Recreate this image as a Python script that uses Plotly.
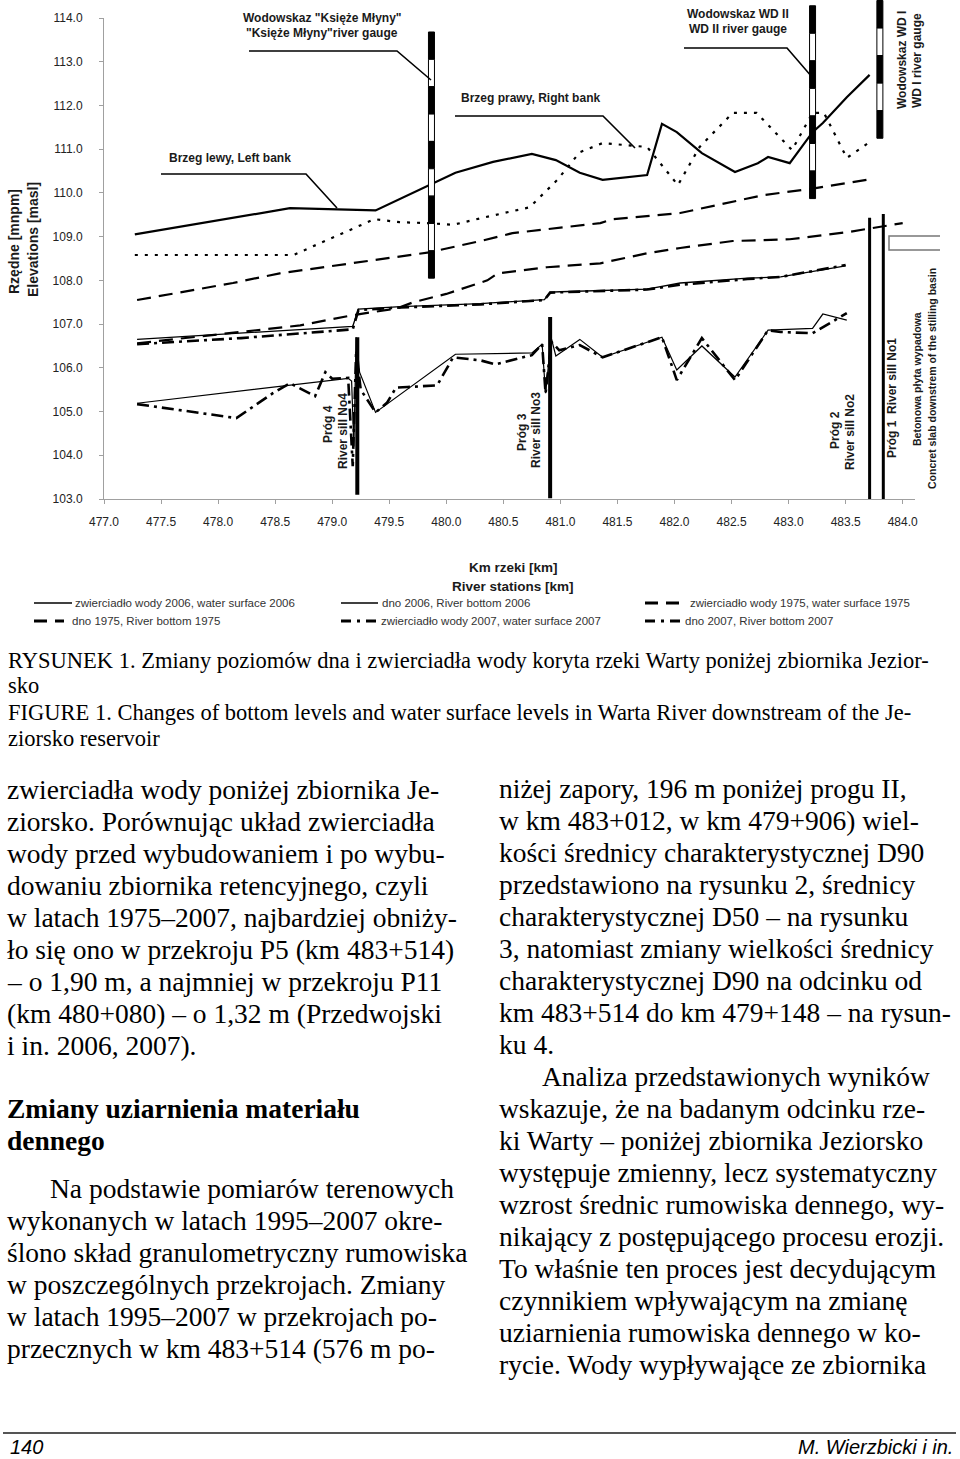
import plotly.graph_objects as go

# ---------------- data ----------------
km_left_bank = [477.27, 478.63, 479.38, 479.86, 480.08, 480.41, 480.75, 480.96, 481.17, 481.37,
                481.76, 481.89, 482.02, 482.24, 482.53, 482.73, 482.82, 483.01, 483.21, 483.30,
                483.51, 483.71]
el_left_bank = [109.05, 109.65, 109.60, 110.20, 110.46, 110.71, 110.89, 110.75, 110.46, 110.30,
                110.41, 111.58, 111.39, 110.91, 110.48, 110.68, 110.82, 110.68, 111.39, 111.60,
                112.19, 112.70]

km_right_bank = [477.27, 478.66, 479.37, 479.59, 479.83, 480.06, 480.30, 480.73, 480.97, 481.17,
                 481.37, 481.76, 482.03, 482.22, 482.51, 482.72, 483.03, 483.21, 483.31, 483.51,
                 483.71]
el_right_bank = [108.58, 108.58, 109.40, 109.33, 109.31, 109.27, 109.42, 109.67, 110.29, 110.93,
                 111.14, 111.05, 110.18, 111.05, 111.83, 111.83, 110.98, 111.83, 111.83, 110.80,
                 111.16]

km_ws_1975 = [477.29, 478.13, 478.54, 479.85, 480.30, 480.58, 481.35, 481.46, 482.05, 482.46,
              482.78, 483.21, 483.71]
el_ws_1975 = [107.55, 107.94, 108.16, 108.64, 108.90, 109.08, 109.31, 109.40, 109.54, 109.77,
              109.95, 110.10, 110.31]

km_bot_1975 = [477.29, 478.72, 479.17, 479.57, 479.71, 480.00, 480.36, 480.45, 480.88, 481.35,
               481.76, 482.05, 482.51, 483.01, 483.51, 483.71, 484.00]
el_bot_1975 = [106.56, 106.97, 107.20, 107.36, 107.50, 107.69, 108.00, 108.16, 108.30, 108.39,
               108.62, 108.74, 108.90, 108.94, 109.10, 109.19, 109.31]

km_ws_2006 = [477.29, 479.18, 479.23, 479.60, 480.30, 480.86, 480.91, 481.00, 481.76, 482.05,
              482.64, 482.93, 483.50]
el_ws_2006 = [106.65, 106.95, 107.34, 107.40, 107.47, 107.56, 107.73, 107.74, 107.80, 107.94,
              108.05, 108.08, 108.33]

km_ws_2007 = [477.29, 478.20, 479.18, 479.23, 479.60, 480.30, 480.86, 480.91, 481.76, 482.05,
              482.64, 482.93, 483.50]
el_ws_2007 = [106.54, 106.68, 106.88, 107.32, 107.38, 107.45, 107.55, 107.72, 107.79, 107.90,
              108.03, 108.08, 108.35]

km_bot_2006 = [477.29, 479.14, 479.17, 479.19, 479.21, 479.24, 479.38, 480.08, 480.75, 480.84,
               480.87, 480.92, 480.96, 481.17, 481.37, 481.89, 482.02, 482.24, 482.53, 482.82,
               483.21, 483.30, 483.51]
el_bot_2006 = [105.19, 105.76, 105.70, 104.20, 106.70, 105.90, 104.98, 106.31, 106.34, 106.54,
               105.42, 106.68, 106.27, 106.65, 106.24, 106.70, 105.95, 106.50, 105.79, 106.86,
               106.90, 107.23, 107.09]

km_bot_2007 = [477.29, 478.16, 478.48, 478.63, 478.85, 478.94, 479.00, 479.14, 479.18, 479.21,
               479.25, 479.38, 479.48, 479.56, 479.66, 479.92, 480.06, 480.30, 480.43, 480.75,
               480.84, 480.87, 480.92, 480.99, 481.17, 481.37, 481.89, 482.02, 482.24, 482.53,
               482.82, 482.93, 483.21, 483.51]
el_bot_2007 = [105.17, 104.85, 105.42, 105.65, 105.35, 105.90, 105.75, 105.77, 103.75, 106.40,
               105.50, 104.98, 105.20, 105.55, 105.56, 105.60, 106.24, 106.17, 106.08, 106.29,
               106.54, 105.42, 106.60, 106.40, 106.52, 106.24, 106.70, 105.72, 106.68, 105.72,
               106.86, 106.82, 106.79, 107.25]

# river sills: km, bottom, top
sill_km = [479.22, 480.91, 483.71, 483.83]
sill_bottom = [103.1, 103.02, 103.0, 103.0]
sill_top = [106.7, 107.16, 109.43, 109.52]
sill_width = [4, 4, 3, 3]

# river gauges: km, bottom elevation, top elevation, number of stripes
gauge_km = [479.87, 483.21, 483.80]
gauge_bottom = [108.05, 109.87, 111.25]
gauge_top = [113.68, 114.28, 114.40]
gauge_n = [9, 7, 5]

x_ticks = [477.0, 477.5, 478.0, 478.5, 479.0, 479.5, 480.0, 480.5, 481.0, 481.5,
           482.0, 482.5, 483.0, 483.5, 484.0]
y_ticks = [103.0, 104.0, 105.0, 106.0, 107.0, 108.0, 109.0, 110.0, 111.0, 112.0, 113.0, 114.0]

# ---------------- layout geometry ----------------
W, H = 960, 1459
L, R, T, B = 104, 45, 18, 960
PW, PH = W - L - R, H - T - B
X0, Y0, Y1 = 477.0, 103.0, 114.0
X1 = X0 + PW / 114.1


def pp(px, py):
    return (px - L) / PW, (H - B - py) / PH


def d2p(km, el):
    return (km - X0) / (X1 - X0), (el - Y0) / (Y1 - Y0)


fig = go.Figure()

SANS = "Liberation Sans, Arial, sans-serif"
SERIF = "Liberation Serif, Times New Roman, serif"


def add_line(x, y, width, dash):
    fig.add_trace(go.Scatter(x=x, y=y, mode="lines", hoverinfo="skip",
                             line=dict(color="black", width=width, dash=dash)))


add_line(km_ws_1975, el_ws_1975, 2.2, "14px,8px")
add_line(km_bot_1975, el_bot_1975, 2.2, "14px,8px")
add_line(km_right_bank, el_right_bank, 2.2, "3px,7px")
add_line(km_left_bank, el_left_bank, 2.2, "solid")
add_line(km_ws_2007, el_ws_2007, 2.6, "12px,5px,3px,5px")
add_line(km_ws_2006, el_ws_2006, 1.3, "solid")
add_line(km_bot_2007, el_bot_2007, 2.6, "12px,5px,3px,5px")
add_line(km_bot_2006, el_bot_2006, 1.2, "solid")

shapes = []

# sills
for k, b, t, w in zip(sill_km, sill_bottom, sill_top, sill_width):
    x, yb = d2p(k, b)
    _, yt = d2p(k, t)
    shapes.append(dict(type="line", xref="paper", yref="paper", x0=x, x1=x, y0=yb, y1=yt,
                       line=dict(color="black", width=w)))

# gauges (striped bars)
for k, b, t, n in zip(gauge_km, gauge_bottom, gauge_top, gauge_n):
    seg = (t - b) / n
    hw = 3 / PW
    xc, _ = d2p(k, b)
    for i in range(n):
        e_top = t - i * seg
        e_bot = t - (i + 1) * seg
        _, yt = d2p(k, e_top)
        _, yb = d2p(k, e_bot)
        shapes.append(dict(type="rect", xref="paper", yref="paper", x0=xc - hw, x1=xc + hw,
                           y0=yb, y1=yt, fillcolor="black" if i % 2 == 0 else "white",
                           line=dict(color="black", width=1)))

# concrete slab outline
sx0, sy0 = pp(889, 236)
sx1, sy1 = pp(940, 250)
shapes.append(dict(type="path", xref="paper", yref="paper",
                   path=f"M {sx1},{sy0} L {sx0},{sy0} L {sx0},{sy1} L {sx1},{sy1}",
                   line=dict(color="#777777", width=1.5)))

# leader lines
leaders = [[(249, 51), (397, 51), (431, 80)],
           [(161, 174), (306, 174), (337, 208)],
           [(455, 116), (603, 116), (635, 148)],
           [(684, 48), (787, 48), (812, 77)]]
for pts in leaders:
    path = ""
    for i, (a, b) in enumerate(pts):
        x, y = pp(a, b)
        path += ("M " if i == 0 else " L ") + f"{x},{y}"
    shapes.append(dict(type="path", xref="paper", yref="paper", path=path,
                       line=dict(color="black", width=1.6)))

annotations = []


def txt(s, px, py, size=12, bold=False, family=SANS, angle=0, xanchor="center",
        color="#1a1a1a", italic=False):
    x, y = pp(px, py)
    if bold:
        s = f"<b>{s}</b>"
    if italic:
        s = f"<i>{s}</i>"
    annotations.append(dict(text=s, x=x, y=y, xref="paper", yref="paper", showarrow=False,
                            xanchor=xanchor, yanchor="middle", textangle=angle,
                            font=dict(size=size, family=family, color=color)))


# chart labels
txt('Wodowskaz "Księże Młyny"', 322, 18, bold=True)
txt('"Księże Młyny"river gauge', 322, 33, bold=True)
txt("Brzeg lewy, Left bank", 230, 158, bold=True)
txt("Brzeg prawy, Right bank", 530, 98, bold=True)
txt("Wodowskaz WD II", 738, 14, bold=True)
txt("WD II river gauge", 738, 29, bold=True)
txt("Wodowskaz WD I", 902, 60, bold=True, angle=-90)
txt("WD I river gauge", 917, 60, bold=True, angle=-90)
txt("Próg 4", 328, 424, bold=True, angle=-90)
txt("River sill No4", 343, 431, bold=True, angle=-90)
txt("Próg 3", 522, 432, bold=True, angle=-90)
txt("River sill No3", 536, 430, bold=True, angle=-90)
txt("Próg 2", 835, 430, bold=True, angle=-90)
txt("River sill No2", 850, 432, bold=True, angle=-90)
txt("Próg 1  River sill No1", 892, 398, bold=True, angle=-90)
txt("Betonowa płyta wypadowa", 917, 379, size=10.5, bold=True, angle=-90)
txt("Concret slab downstrem of the stilling basin", 932, 378, size=10.5, bold=True, angle=-90)

# axis titles
txt("Rzędne [mnpm]", 14, 242, size=14, bold=True, angle=-90)
txt("Elevations [masl]", 33, 240, size=14, bold=True, angle=-90)
txt("Km rzeki [km]", 513, 567, size=13.5, bold=True)
txt("River stations [km]", 513, 586, size=13.5, bold=True)

# legend
legend_items = [
    (34, 72, 603, "solid", 1.3, 73, "zwierciadło wody 2006, water surface 2006"),
    (341, 378, 603, "solid", 1.3, 380, "dno 2006, River bottom 2006"),
    (645, 680, 603, "13px,8px", 3, 688, "zwierciadło wody 1975, water surface 1975"),
    (34, 64, 621, "13px,8px", 3, 70, "dno 1975, River bottom 1975"),
    (341, 377, 621, "10px,6px,3px,6px", 3, 379, "zwierciadło wody 2007, water surface 2007"),
    (645, 681, 621, "10px,6px,3px,6px", 3, 683, "dno 2007, River bottom 2007"),
]
for a, b, y, dash, w, tx, label in legend_items:
    x0, yy = pp(a, y)
    x1, _ = pp(b, y)
    shapes.append(dict(type="line", xref="paper", yref="paper", x0=x0, x1=x1, y0=yy, y1=yy,
                       line=dict(color="black", width=w, dash=dash)))
    txt(label, tx, y, size=11.5, xanchor="left", color="#333333")

# caption
CAP = 22.5
txt("RYSUNEK 1. Zmiany poziomów dna i zwierciadła wody koryta rzeki Warty poniżej zbiornika Jezior-",
    6, 660, size=CAP, family=SERIF, xanchor="left", color="black")
txt("sko", 6, 685, size=CAP, family=SERIF, xanchor="left", color="black")
txt("FIGURE 1. Changes of bottom levels and water surface levels in Warta River downstream of the Je-",
    6, 712, size=CAP, family=SERIF, xanchor="left", color="black")
txt("ziorsko reservoir", 6, 738, size=CAP, family=SERIF, xanchor="left", color="black")

# body text
BODY = 27.5
left_lines = [
    (5, 790, "zwierciadła wody poniżej zbiornika Je-", False),
    (5, 822, "ziorsko. Porównując układ zwierciadła", False),
    (5, 854, "wody przed wybudowaniem i po wybu-", False),
    (5, 886, "dowaniu zbiornika retencyjnego, czyli", False),
    (5, 917, "w latach 1975–2007, najbardziej obniży-", False),
    (5, 949, "ło się ono w przekroju P5 (km 483+514)", False),
    (5, 981, "– o 1,90 m, a najmniej w przekroju P11", False),
    (5, 1013, "(km 480+080) – o 1,32 m (Przedwojski", False),
    (5, 1045, "i in. 2006, 2007).", False),
    (5, 1108, "Zmiany uziarnienia materiału", True),
    (5, 1140, "dennego", True),
    (48, 1188, "Na podstawie pomiarów terenowych", False),
    (5, 1220, "wykonanych w latach 1995–2007 okre-", False),
    (5, 1252, "ślono skład granulometryczny rumowiska", False),
    (5, 1284, "w poszczególnych przekrojach. Zmiany", False),
    (5, 1316, "w latach 1995–2007 w przekrojach po-", False),
    (5, 1348, "przecznych w km 483+514 (576 m po-", False),
]
right_lines = [
    "niżej zapory, 196 m poniżej progu II,",
    "w km 483+012, w km 479+906) wiel-",
    "kości średnicy charakterystycznej D90",
    "przedstawiono na rysunku 2, średnicy",
    "charakterystycznej D50 – na rysunku",
    "3, natomiast zmiany wielkości średnicy",
    "charakterystycznej D90 na odcinku od",
    "km 483+514 do km 479+148 – na rysun-",
    "ku 4.",
    "Analiza przedstawionych wyników",
    "wskazuje, że na badanym odcinku rze-",
    "ki Warty – poniżej zbiornika Jeziorsko",
    "występuje zmienny, lecz systematyczny",
    "wzrost średnic rumowiska dennego, wy-",
    "nikający z postępującego procesu erozji.",
    "To właśnie ten proces jest decydującym",
    "czynnikiem wpływającym na zmianę",
    "uziarnienia rumowiska dennego w ko-",
    "rycie. Wody wypływające ze zbiornika",
]
for px, py, s, bold in left_lines:
    txt(s, px, py, size=BODY, family=SERIF, xanchor="left", color="black", bold=bold)
for i, s in enumerate(right_lines):
    px = 540 if i == 9 else 497
    txt(s, px, 790 + 32 * i - 2, size=BODY, family=SERIF, xanchor="left", color="black")

# footer
fx0, fy = pp(3, 1433)
fx1, _ = pp(956, 1433)
shapes.append(dict(type="line", xref="paper", yref="paper", x0=fx0, x1=fx1, y0=fy, y1=fy,
                   line=dict(color="#555555", width=2)))
txt("140", 8, 1447, size=20, family="Liberation Sans Narrow, Liberation Sans, Arial",
    xanchor="left", color="black", italic=True)
txt("M. Wierzbicki i in.", 955, 1447, size=20,
    family="Liberation Sans Narrow, Liberation Sans, Arial", xanchor="right", color="black",
    italic=True)

fig.update_layout(
    width=W, height=H,
    margin=dict(l=L, r=R, t=T, b=B, pad=0),
    paper_bgcolor="white", plot_bgcolor="white",
    showlegend=False,
    shapes=shapes, annotations=annotations,
    xaxis=dict(range=[X0, X1], tickvals=x_ticks, tickformat=".1f", showgrid=False,
               zeroline=False, showline=True, linecolor="#a0a0a0", linewidth=1,
               ticks="outside", ticklen=4, tickcolor="#a0a0a0",
               tickfont=dict(size=12, family=SANS, color="#222222"), ticklabelstandoff=8),
    yaxis=dict(range=[Y0, Y1], tickvals=y_ticks, tickformat=".1f", showgrid=False,
               zeroline=False, showline=True, linecolor="#a0a0a0", linewidth=1,
               ticks="outside", ticklen=4, tickcolor="#a0a0a0",
               tickfont=dict(size=12, family=SANS, color="#222222"), ticklabelstandoff=14),
)

fig.write_html("out.html")
